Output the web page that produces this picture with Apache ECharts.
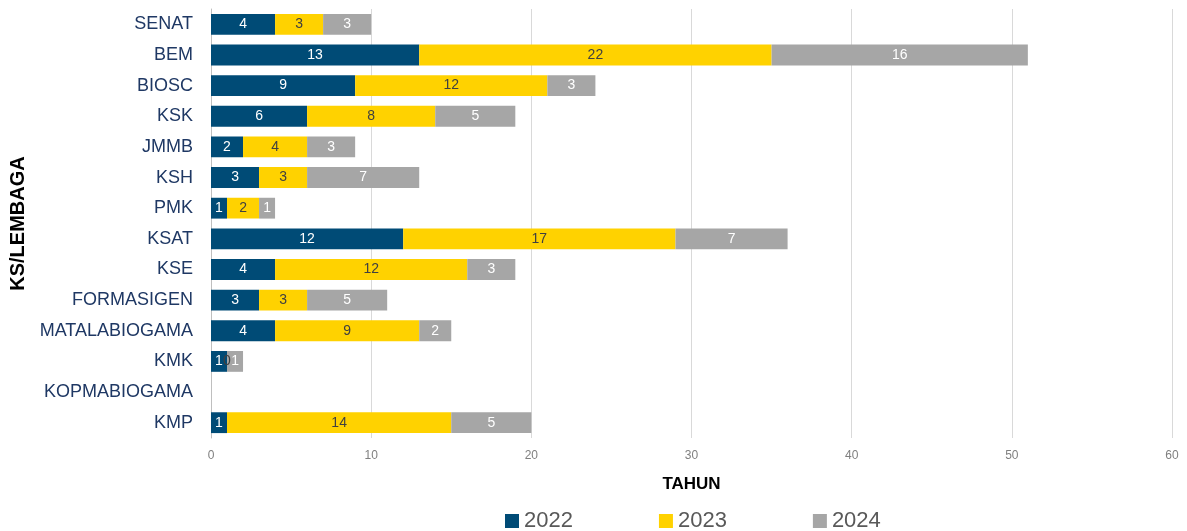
<!DOCTYPE html>
<html><head><meta charset="utf-8">
<script src="https://cdn.jsdelivr.net/npm/echarts@6/dist/echarts.min.js"></script>
<style>html,body{margin:0;padding:0;background:#fff}#c{width:1187px;height:531px}</style>
</head><body><div id="c"></div>
<script>
const categories = ['SENAT','BEM','BIOSC','KSK','JMMB','KSH','PMK','KSAT','KSE','FORMASIGEN','MATALABIOGAMA','KMK','KOPMABIOGAMA','KMP'];
const v2022 = [4,13,9,6,2,3,1,12,4,3,4,1,null,1];
const v2023 = [3,22,12,8,4,3,2,17,12,3,9,0,null,14];
const v2024 = [3,16,3,5,3,7,1,7,3,5,2,1,null,5];
const xTicks = [0,10,20,30,40,50,60];

const chart = echarts.init(document.getElementById('c'));
function mk(name, data, color, labelColor){
  return {name, type:'bar', stack:'t', data, barCategoryGap:'32%',
    itemStyle:{color},
    label:{show:true, position:'inside', color:labelColor, fontSize:14, fontFamily:'Liberation Sans',
      formatter: p => (p.value===null||p.value===undefined) ? '' : String(p.value)}};
}
chart.setOption({
  animation:false,
  grid:{left:211, right:15, top:9, bottom:93, containLabel:false},
  legend:{bottom:-6, left:500, itemWidth:14, itemHeight:14, itemGap:86, icon:'rect',
    textStyle:{fontSize:22, color:'#595959', fontFamily:'Liberation Sans'}},
  xAxis:{type:'value', min:xTicks[0], max:xTicks[xTicks.length-1], interval:10,
    name:'TAHUN', nameLocation:'middle', nameGap:38,
    nameTextStyle:{fontSize:17, fontWeight:'bold', color:'#000', fontFamily:'Liberation Sans'},
    axisLabel:{color:'#7f7f7f', fontSize:12, margin:12, fontFamily:'Liberation Sans'},
    splitLine:{lineStyle:{color:'#d9d9d9'}}, axisLine:{show:false}, axisTick:{show:false}},
  yAxis:{type:'category', data:categories, inverse:true,
    name:'KS/LEMBAGA', nameLocation:'middle', nameGap:183, nameRotate:90,
    nameTextStyle:{fontSize:20, fontWeight:'bold', color:'#000', fontFamily:'Liberation Sans'},
    axisLabel:{color:'#1f3864', fontSize:18, margin:18, fontFamily:'Liberation Sans'},
    axisLine:{lineStyle:{color:'#bfbfbf'}}, axisTick:{show:false}},
  series:[
    mk('2022', v2022, '#004b76', '#fff'),
    mk('2023', v2023, '#ffd200', '#404040'),
    mk('2024', v2024, '#a6a6a6', '#fff')
  ]
});
</script></body></html>
